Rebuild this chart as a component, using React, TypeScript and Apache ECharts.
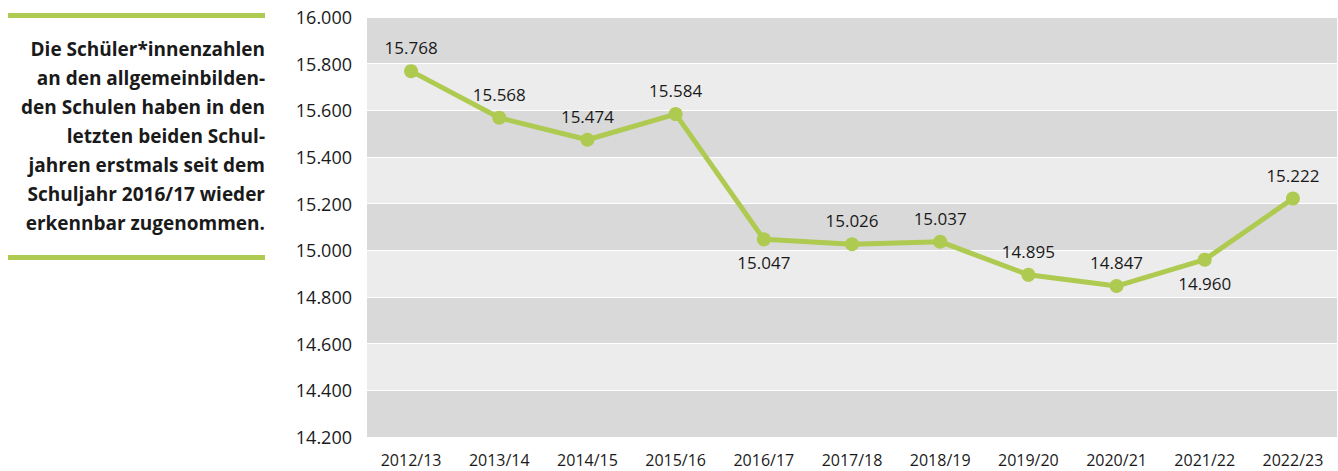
import React, { useEffect, useRef } from "react";
import * as echarts from "echarts";

const categories = ["2012/13", "2013/14", "2014/15", "2015/16", "2016/17", "2017/18", "2018/19", "2019/20", "2020/21", "2021/22", "2022/23"];
const values = [15768, 15568, 15474, 15584, 15047, 15026, 15037, 14895, 14847, 14960, 15222];
const labelBelow = [false, false, false, false, true, false, false, false, false, true, false];
const textLines = [
  "Die Schüler*innenzahlen",
  "an den allgemeinbilden-",
  "den Schulen haben in den",
  "letzten beiden Schul-",
  "jahren erstmals seit dem",
  "Schuljahr 2016/17 wieder",
  "erkennbar zugenommen.",
];

const GREEN = "#afca50";
const FONT = "'Open Sans', 'Noto Sans', sans-serif";

const fmt = (v: number) => {
  const s = Math.round(v).toString();
  return s.replace(/\B(?=(\d{3})+(?!\d))/g, ".");
};

export default function App() {
  const ref = useRef<HTMLDivElement>(null);
  useEffect(() => {
    if (!ref.current) return;
    const chart = echarts.init(ref.current, undefined, { renderer: "svg" });
    const graphics: any[] = [
      { type: "rect", shape: { x: 8, y: 13, width: 257, height: 5 }, style: { fill: GREEN } },
      { type: "rect", shape: { x: 8, y: 255, width: 257, height: 5 }, style: { fill: GREEN } },
    ];
    textLines.forEach((t, i) => {
      graphics.push({
        type: "text",
        x: 265,
        y: 49 + i * 29,
        style: {
          text: t,
          align: "right",
          verticalAlign: "middle",
          font: `bold 19px ${FONT}`,
          fill: "#1a1a1a",
        },
      });
    });
    chart.setOption({
      animation: false,
      backgroundColor: "#ffffff",
      grid: { left: 367, right: 1, top: 17, bottom: 34, containLabel: false },
      graphic: graphics,
      xAxis: {
        type: "category",
        data: categories,
        boundaryGap: true,
        axisLine: { show: false },
        axisTick: { show: false },
        axisLabel: { color: "#1a1a1a", fontSize: 16, fontFamily: FONT, margin: 15 },
      },
      yAxis: {
        type: "value",
        min: 14200,
        max: 16000,
        interval: 200,
        axisLine: { show: false },
        axisTick: { show: false },
        splitLine: { show: true, lineStyle: { color: "#ffffff", width: 1 } },
        splitArea: { show: true, areaStyle: { color: ["#d9d9d9", "#ececec"] } },
        axisLabel: {
          color: "#1a1a1a",
          fontSize: 18,
          fontFamily: FONT,
          margin: 15,
          padding: [7, 0, 0, 0],
          formatter: (v: number) => fmt(v),
        },
      },
      series: [
        {
          type: "line",
          data: values.map((v, i) => ({
            value: v,
            label: { position: labelBelow[i] ? "bottom" : "top" },
          })),
          symbol: "circle",
          symbolSize: 14,
          itemStyle: { color: GREEN },
          lineStyle: { color: GREEN, width: 5 },
          label: {
            show: true,
            distance: 8,
            fontSize: 17,
            fontFamily: FONT,
            color: "#1a1a1a",
            formatter: (p: any) => fmt(p.value),
          },
        },
      ],
    });
    return () => chart.dispose();
  }, []);
  return <div ref={ref} style={{ position: "fixed", left: 0, top: 0, width: 1338, height: 471 }} />;
}
